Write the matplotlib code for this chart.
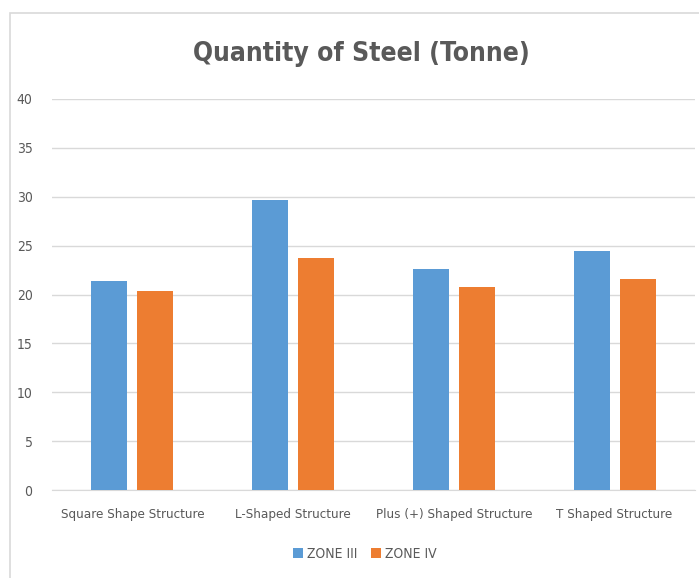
import matplotlib
matplotlib.use("Agg")
import matplotlib.pyplot as plt
import matplotlib.patches as patches
import numpy as np

categories = ["Square Shape Structure", "L-Shaped Structure",
              "Plus (+) Shaped Structure", "T Shaped Structure"]
zone_iii = [21.4, 29.65, 22.6, 24.45]
zone_iv = [20.4, 23.75, 20.8, 21.6]
series_names = ["ZONE III", "ZONE IV"]

plt.rcParams["font.family"] = ["DejaVu Sans"]
plt.rcParams["font.stretch"] = "condensed"

text_color = "#595959"
fig = plt.figure(figsize=(6.99, 5.78), dpi=100)
ax = fig.add_axes([52/699, 1 - 490/578, 643/699, 391/578])

x = np.arange(len(categories))
w = 0.224
off = 0.143
ax.bar(x - off, zone_iii, w, color="#5B9BD5", label=series_names[0], zorder=3)
ax.bar(x + off, zone_iv, w, color="#ED7D31", label=series_names[1], zorder=3)

ax.set_xlim(-0.5, len(categories) - 0.5)
ax.set_ylim(0, 40)
ax.set_yticks(range(0, 41, 5))
ax.grid(axis="y", color="#d9d9d9", linewidth=1, zorder=0)
for s in ["top", "right", "left"]:
    ax.spines[s].set_visible(False)
ax.spines["bottom"].set_color("#d9d9d9")
ax.tick_params(axis="both", length=0, colors=text_color, labelsize=10)
ax.tick_params(axis="x", labelsize=9.6, pad=13)
ax.tick_params(axis="y", pad=14)
ax.set_xticks(x)
ax.set_xticklabels(categories)

fig.text(361/699, 1 - 54/578, "Quantity of Steel (Tonne)", ha="center", va="center",
         fontsize=19, fontweight="bold", color=text_color)

fig.legend(loc="center", bbox_to_anchor=(365/699, 1 - 554/578), ncol=2, frameon=False,
           fontsize=10, labelcolor=text_color, handlelength=0.7, handleheight=0.7,
           handletextpad=0.3, columnspacing=1.0)

fig.add_artist(patches.Rectangle((10/699, -0.1), 1.0, 1.1 - 13/578,
                                 transform=fig.transFigure, fill=False,
                                 edgecolor="#d9d9d9", linewidth=1.2))

plt.savefig("out.png", dpi=100)
